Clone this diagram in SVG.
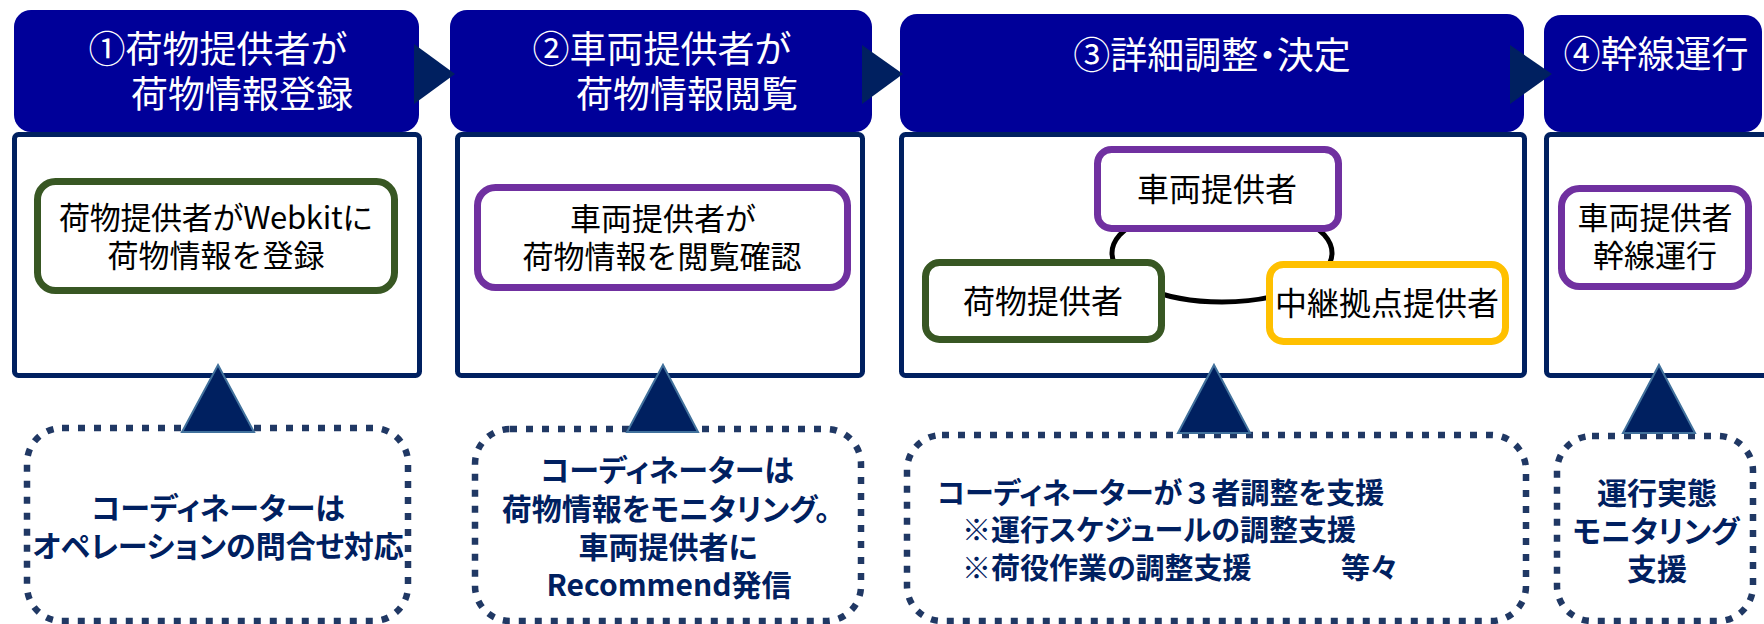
<svg xmlns="http://www.w3.org/2000/svg" width="1764" height="624" viewBox="0 0 1764 624">
<style>
text{font-family:"Noto Sans CJK JP","Noto Sans",sans-serif;}
.hdr{fill:#000099;}
.htxt{fill:#ffffff;font-size:37px;text-anchor:middle;}
.palt{font-feature-settings:"palt" 1;}
.nopalt{font-feature-settings:normal;}
.body{fill:#ffffff;stroke:#002060;stroke-width:5;}
.arrow{fill:#002060;}
.grn{fill:#ffffff;stroke:#385723;stroke-width:7;}
.pur{fill:#ffffff;stroke:#7030a0;stroke-width:7;}
.yel{fill:#ffffff;stroke:#ffc000;stroke-width:7;}
.btxt{fill:#000000;font-size:31px;text-anchor:middle;}
.b3txt{fill:#000000;font-size:32px;text-anchor:middle;}
.dot{fill:#ffffff;stroke:#203864;stroke-width:6.5;stroke-dasharray:7 9;}
.tri{fill:#002060;stroke:#41719c;stroke-width:2;}
.ctxt{fill:#002060;font-size:30px;font-weight:bold;text-anchor:middle;font-feature-settings:"palt" 1;}
.ctxt3{fill:#002060;font-size:29px;font-weight:bold;font-feature-settings:"palt" 1;}
</style>

<g id="step1">
  <rect class="hdr" x="14" y="10" width="405" height="122" rx="17"/>
  <text class="htxt" x="218" y="63">①荷物提供者が</text>
  <text class="htxt" x="242" y="108">荷物情報登録</text>
  <rect class="body" x="14.5" y="134.5" width="405" height="241" rx="4"/>
</g>
<g id="step2">
  <rect class="hdr" x="450" y="10" width="422" height="122" rx="17"/>
  <text class="htxt" x="662" y="63">②車両提供者が</text>
  <text class="htxt" x="687" y="108">荷物情報閲覧</text>
  <rect class="body" x="457.5" y="134.5" width="405" height="241" rx="4"/>
</g>
<g id="step3">
  <rect class="hdr" x="900" y="14" width="624" height="118" rx="17"/>
  <text class="htxt palt" x="1212" y="69">③詳細調整・決定</text>
  <rect class="body" x="901.5" y="134.5" width="623" height="241" rx="4"/>
</g>
<g id="step4">
  <rect class="hdr" x="1544" y="15" width="218" height="117" rx="17"/>
  <text class="htxt" x="1656" y="68">④幹線運行</text>
  <rect class="body" x="1546.5" y="134.5" width="260" height="241" rx="4"/>
</g>

<g id="connectors">
  <polygon class="arrow" points="414,44 455,74 414,104"/>
  <polygon class="arrow" points="862,45 903,74 862,104"/>
  <polygon class="arrow" points="1510,45 1552,74 1510,104"/>
  <ellipse cx="1222" cy="253" rx="110" ry="49" fill="none" stroke="#000000" stroke-width="5"/>
</g>

<g id="box1">
  <rect class="grn" x="37.5" y="181.5" width="357" height="109" rx="18"/>
  <text class="btxt" x="216" y="229" style="letter-spacing:-0.3px">荷物提供者がWebkitに</text>
  <text class="btxt" x="216" y="267">荷物情報を登録</text>
</g>
<g id="box2">
  <rect class="pur" x="477.5" y="187.5" width="370" height="100" rx="18"/>
  <text class="btxt" x="663" y="230">車両提供者が</text>
  <text class="btxt" x="662" y="268">荷物情報を閲覧確認</text>
</g>
<g id="vehicle3">
  <rect class="pur" x="1097.5" y="149.5" width="241" height="79" rx="14"/>
  <text class="b3txt" x="1217" y="201">車両提供者</text>
</g>
<g id="cargo3">
  <rect class="grn" x="925.5" y="262.5" width="236" height="77" rx="14"/>
  <text class="b3txt" x="1043" y="313">荷物提供者</text>
</g>
<g id="relay3">
  <rect class="yel" x="1269.5" y="264.5" width="236" height="77" rx="14"/>
  <text class="b3txt" x="1387" y="315">中継拠点提供者</text>
</g>
<g id="box4">
  <rect class="pur" x="1561.5" y="188.5" width="187" height="98" rx="18"/>
  <text class="btxt" x="1655" y="229">車両提供者</text>
  <text class="btxt" x="1655" y="267">幹線運行</text>
</g>

<g id="coord1">
  <rect class="dot" x="27" y="428" width="381" height="193" rx="35"/>
  <polygon class="tri" points="218,365 254,432 182,432"/>
  <text class="ctxt" x="218" y="519">コーディネーターは</text>
  <text class="ctxt" x="218" y="557">オペレーションの問合せ対応</text>
</g>
<g id="coord2">
  <rect class="dot" x="475" y="429" width="386" height="192" rx="35"/>
  <polygon class="tri" points="663,365 698,432 627,432"/>
  <text class="ctxt" x="667" y="481">コーディネーターは</text>
  <text class="ctxt" x="666" y="520">荷物情報をモニタリング。</text>
  <text class="ctxt" x="668" y="558">車両提供者に</text>
  <text class="ctxt" x="669" y="596">Recommend発信</text>
</g>
<g id="coord3">
  <rect class="dot" x="907" y="435" width="619" height="186" rx="35"/>
  <polygon class="tri" points="1214,365 1250,433 1178,433"/>
  <text class="ctxt3" x="937" y="504">コーディネーターが<tspan class="nopalt">３</tspan>者調整を支援</text>
  <text class="ctxt3" x="962" y="541">※運行スケジュールの調整支援</text>
  <text class="ctxt3" x="962" y="579">※荷役作業の調整支援<tspan x="1341">等々</tspan></text>
</g>
<g id="coord4">
  <rect class="dot" x="1557" y="436" width="196" height="185" rx="35"/>
  <polygon class="tri" points="1659,365 1695,433 1623,433"/>
  <text class="ctxt" x="1657" y="504">運行実態</text>
  <text class="ctxt" x="1656" y="542">モニタリング</text>
  <text class="ctxt" x="1657" y="580">支援</text>
</g>
</svg>
